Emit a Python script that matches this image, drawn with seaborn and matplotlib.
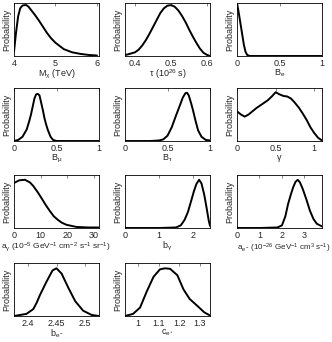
import numpy as np
import pandas as pd
import matplotlib
matplotlib.use("Agg")
import matplotlib.pyplot as plt
import seaborn as sns

# posterior curves (y as fraction of panel height)
m_x = [4.0, 4.05, 4.1, 4.15, 4.2, 4.25, 4.3, 4.35, 4.4, 4.5, 4.6, 4.7, 4.8, 4.9, 5.0, 5.2, 5.4, 5.6, 5.8, 6.0]
m_y = [0.08, 0.45, 0.75, 0.9, 0.95, 0.96, 0.96, 0.93, 0.88, 0.78, 0.67, 0.55, 0.43, 0.33, 0.25, 0.13, 0.07, 0.04, 0.02, 0.01]

tau_x = [0.372, 0.38, 0.39, 0.40, 0.41, 0.42, 0.43, 0.44, 0.45, 0.46, 0.47, 0.48, 0.49, 0.50, 0.51,
         0.52, 0.53, 0.54, 0.55, 0.56, 0.57, 0.58, 0.59, 0.60, 0.608]
tau_y = [0.02, 0.03, 0.05, 0.07, 0.12, 0.2, 0.3, 0.42, 0.55, 0.68, 0.81, 0.9, 0.95, 0.96, 0.93,
         0.86, 0.76, 0.64, 0.5, 0.37, 0.25, 0.14, 0.06, 0.02, 0.0]

be_x = [0.0, 0.02, 0.04, 0.06, 0.08, 0.10, 0.12, 0.15, 1.0]
be_y = [1.0, 0.82, 0.62, 0.42, 0.22, 0.08, 0.02, 0.0, 0.0]

bmu_x = [0.0, 0.05, 0.1, 0.15, 0.18, 0.2, 0.22, 0.24, 0.26, 0.28, 0.30, 0.32, 0.34, 0.36, 0.38, 0.40, 0.43, 0.46, 0.5, 1.0]
bmu_y = [0.0, 0.02, 0.08, 0.22, 0.38, 0.5, 0.65, 0.8, 0.88, 0.89, 0.86, 0.72, 0.58, 0.42, 0.3, 0.2, 0.08, 0.02, 0.0, 0.0]

btau_x = [0.0, 0.3, 0.4, 0.45, 0.5, 0.55, 0.6, 0.65, 0.68, 0.71, 0.73, 0.75, 0.78, 0.8, 0.83, 0.86, 0.9, 0.95, 1.0]
btau_y = [0.0, 0.0, 0.01, 0.03, 0.1, 0.26, 0.48, 0.69, 0.82, 0.9, 0.91, 0.86, 0.7, 0.58, 0.38, 0.2, 0.08, 0.02, 0.01]

gam_x = [0.0, 0.05, 0.1, 0.15, 0.2, 0.25, 0.3, 0.35, 0.4, 0.45, 0.5, 0.55, 0.6, 0.65, 0.7,
         0.75, 0.8, 0.85, 0.9, 0.95, 1.0, 1.05, 1.1]
gam_y = [0.56, 0.5, 0.46, 0.5, 0.56, 0.62, 0.67, 0.72, 0.77, 0.84, 0.92, 0.88, 0.85, 0.84, 0.8,
         0.72, 0.63, 0.52, 0.4, 0.26, 0.15, 0.06, 0.01]

ag_x = [0.0, 2.0, 4.1, 6.0, 7.3, 9.0, 10.4, 12.0, 13.5, 15.0, 16.6, 18.0, 19.8, 23.5, 28.0, 32.0]
ag_y = [0.85, 0.9, 0.91, 0.86, 0.79, 0.67, 0.56, 0.43, 0.32, 0.22, 0.15, 0.1, 0.06, 0.02, 0.01, 0.01]

bg_x = [0.0, 1.0, 1.5, 1.64, 1.75, 1.85, 1.95, 2.03, 2.1, 2.18, 2.25, 2.33, 2.4, 2.46, 2.5]
bg_y = [0.0, 0.0, 0.01, 0.05, 0.15, 0.3, 0.52, 0.7, 0.83, 0.91, 0.84, 0.63, 0.38, 0.15, 0.04]

ae_x = [0.0, 1.0, 1.8, 2.0, 2.15, 2.27, 2.4, 2.5, 2.6, 2.7, 2.8, 2.93, 3.1, 3.24, 3.4, 3.55, 3.78]
ae_y = [0.0, 0.0, 0.01, 0.05, 0.22, 0.45, 0.64, 0.77, 0.87, 0.91, 0.86, 0.73, 0.52, 0.33, 0.17, 0.08, 0.03]

bem_x = [2.375, 2.397, 2.409, 2.415, 2.421, 2.432, 2.443, 2.45, 2.459, 2.471, 2.483, 2.497, 2.512, 2.525]
bem_y = [0.0, 0.04, 0.13, 0.25, 0.4, 0.64, 0.86, 0.9, 0.8, 0.53, 0.28, 0.1, 0.02, 0.0]

cep_x = [0.937, 0.976, 1.01, 1.043, 1.075, 1.106, 1.13, 1.155, 1.19, 1.22, 1.25, 1.29, 1.32, 1.348]
cep_y = [0.0, 0.04, 0.16, 0.47, 0.74, 0.88, 0.9, 0.89, 0.77, 0.5, 0.32, 0.18, 0.07, 0.01]

panels = [
    (m_x, m_y, (4, 6.05), [4, 5, 6], ["4", "5", "6"], r"M$_\chi$ (TeV)"),
    (tau_x, tau_y, (0.372, 0.608), [0.4, 0.5, 0.6], ["0.4", "0.5", "0.6"], r"$\tau$ (10$^{26}$ s)"),
    (be_x, be_y, (0, 1), [0, 0.5, 1], ["0", "0.5", "1"], r"B$_e$"),
    (bmu_x, bmu_y, (0, 1), [0, 0.5, 1], ["0", "0.5", "1"], r"B$_\mu$"),
    (btau_x, btau_y, (0, 1), [0, 0.5, 1], ["0", "0.5", "1"], r"B$_\tau$"),
    (gam_x, gam_y, (0, 1.1), [0, 0.5, 1], ["0", "0.5", "1"], r"$\gamma$"),
    (ag_x, ag_y, (0, 32), [0, 10, 20, 30], ["0", "10", "20", "30"],
     r"a$_\gamma$ (10$^{-5}$ GeV$^{-1}$ cm$^{-2}$ s$^{-1}$ sr$^{-1}$)"),
    (bg_x, bg_y, (0, 2.5), [0, 1, 2], ["0", "1", "2"], r"b$_\gamma$"),
    (ae_x, ae_y, (0, 3.78), [0, 1, 2, 3], ["0", "1", "2", "3"],
     r"a$_{e^-}$ (10$^{-26}$ GeV$^{-1}$ cm$^3$ s$^{-1}$)"),
    (bem_x, bem_y, (2.375, 2.525), [2.4, 2.45, 2.5], ["2.4", "2.45", "2.5"], r"b$_{e^-}$"),
    (cep_x, cep_y, (0.937, 1.348), [1.0, 1.1, 1.2, 1.3], ["1", "1.1", "1.2", "1.3"], r"c$_{e^+}$"),
]

sns.set_style("white")
plt.rcParams["font.family"] = ["Liberation Sans", "DejaVu Sans"]
plt.rcParams["mathtext.fontset"] = "custom"
plt.rcParams["mathtext.rm"] = "Liberation Sans"
plt.rcParams["mathtext.it"] = "Liberation Sans"
plt.rcParams["mathtext.default"] = "regular"

W, H = 332, 342
fig = plt.figure(figsize=(W / 100, H / 100), dpi=100)

col_left = [14, 125, 237]
row_top = [3, 88, 175, 263]
aw, ah = 85, 53

for i, (xs, ys, xlim, ticks, labels, xlabel) in enumerate(panels):
    r, c = divmod(i, 3)
    ax = fig.add_axes([col_left[c] / W, 1 - (row_top[r] + ah) / H, aw / W, ah / H])
    df = pd.DataFrame({"x": xs, "y": ys})
    sns.lineplot(data=df, x="x", y="y", ax=ax, color="black", linewidth=1.4)
    ax.set_xlim(*xlim)
    ax.set_ylim(0, 1)
    ax.set_xticks(ticks)
    ax.set_xticklabels(labels)
    ax.set_yticks([])
    ax.tick_params(axis="x", direction="in", top=True, length=2, width=0.5,
                   labelsize=6.5, pad=2, color="#555555")
    ax.set_ylabel("Probability", fontsize=6.5, labelpad=2)
    for s in ax.spines.values():
        s.set_linewidth(0.6)
        s.set_color("black")
    if len(xlabel) > 30:
        # long unit labels: left aligned, slightly smaller, as in the reference
        ax.set_xlabel(xlabel, fontsize=6.0 if c == 0 else 5.8, labelpad=0)
        ax.xaxis.label.set_horizontalalignment("left")
        ax.xaxis.set_label_coords(-13 / aw if c == 0 else 0.0, -0.25)
    else:
        ax.set_xlabel(xlabel, fontsize=6.5, labelpad=0)

fig.savefig("out.png", dpi=100)
